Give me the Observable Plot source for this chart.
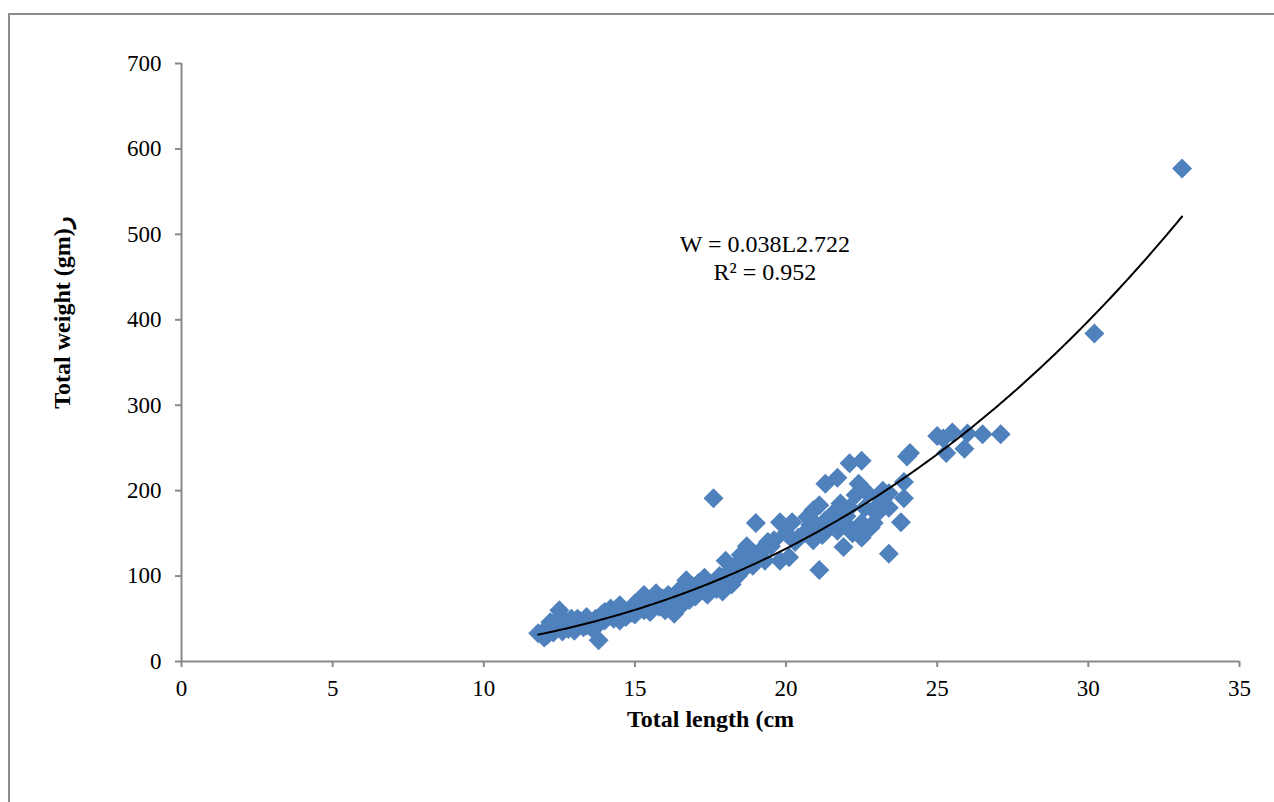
<!DOCTYPE html>
<html><head><meta charset="utf-8">
<script src="https://cdn.jsdelivr.net/npm/d3@7"></script>
<script src="https://cdn.jsdelivr.net/npm/@observablehq/plot@0.6"></script>
<style>
html,body{margin:0;padding:0;background:#fff;overflow:hidden;}
#frame{position:absolute;left:8px;top:13px;width:1400px;height:1000px;border:2px solid #8c8c8c;box-sizing:border-box;}
#chart{position:absolute;left:0;top:0;}
</style></head>
<body>
<div id="frame"></div>
<div id="chart"></div>
<script>
const xTicks = [0, 5, 10, 15, 20, 25, 30, 35];
const yTicks = [0, 100, 200, 300, 400, 500, 600, 700];
const fitA = 0.038;
const fitB = 2.722;
const fitRange = [11.8, 33.1];
const equationLines = ["W = 0.038L2.722", "R² = 0.952"];

const lengthCm = [
11.8,12.0,12.0,12.1,12.2,12.3,12.3,12.4,12.5,12.5,12.5,12.6,12.7,12.8,12.9,13.0,13.0,13.1,13.2,13.3,
13.4,13.5,13.6,13.7,13.8,13.8,13.9,14.0,14.0,14.1,14.2,14.3,14.4,14.5,14.5,14.6,14.7,14.8,14.9,15.0,
15.0,15.1,15.2,15.3,15.3,15.4,15.5,15.6,15.7,15.8,15.9,16.0,16.0,16.1,16.2,16.3,16.4,16.5,16.6,16.7,
16.8,16.9,17.0,17.1,17.2,17.3,17.4,17.5,17.6,17.7,17.8,17.9,18.0,18.0,18.1,18.2,18.3,18.4,18.5,18.6,
18.7,18.8,18.9,19.0,19.0,19.2,19.3,19.4,19.6,19.8,19.8,20.0,20.1,20.2,20.4,20.6,20.7,20.9,20.9,21.0,
21.1,21.1,21.2,21.3,21.4,21.5,21.7,21.7,21.8,21.8,21.9,22.0,22.1,22.1,22.2,22.3,22.4,22.5,22.5,22.5,
22.7,22.8,22.9,23.0,23.1,23.2,23.4,23.4,23.4,23.8,23.9,23.9,24.0,24.1,25.0,25.2,25.3,25.5,25.9,26.0,
26.5,27.1,30.2,33.1,
12.2,12.9,13.4,14.2,14.9,15.6,16.2,16.8,17.4,18.2,18.6,19.1,19.5,20.3,20.8,21.3,21.6,22.0,22.6,23.1
];
const weightGm = [
33,28,36,31,38,42,34,45,60,52,40,35,48,38,44,36,42,50,47,40,
52,45,38,50,25,44,55,48,58,52,62,50,56,66,48,60,52,58,63,55,
68,62,72,60,78,66,58,70,80,64,74,60,68,78,70,56,75,85,68,95,
80,88,76,92,84,98,78,90,191,85,100,82,118,95,105,90,112,100,125,108,
135,118,112,162,125,130,118,140,142,163,118,150,122,163,145,150,169,142,177,160,
107,183,148,208,157,170,215,153,185,162,134,170,180,232,150,195,208,235,162,145,
197,157,162,173,192,200,180,197,126,163,210,191,240,244,264,261,244,268,249,267,
266,266,384,577,
46,50,42,55,57,62,74,72,88,97,120,128,135,140,160,165,175,160,180,185
];
const points = lengthCm.map((L, i) => ({L, W: weightGm[i]}));

const fitLine = d3.range(fitRange[0], fitRange[1] + 0.001, 0.1).map(L => ({L, W: fitA * Math.pow(L, fitB)}));

const font = "'Liberation Serif','Times New Roman',serif";
const plot = Plot.plot({
  width: 1274,
  height: 802,
  marginLeft: 181,
  marginRight: 35,
  marginTop: 63,
  marginBottom: 141,
  style: {fontFamily: font, fontSize: "23px", color: "#000", background: "transparent"},
  x: {domain: [0, 35]},
  y: {domain: [0, 700]},
  marks: [
    Plot.dot(points, {x: "L", y: "W", symbol: "diamond2", r: 9, fill: "#4F81BD", stroke: "none"}),
    Plot.line(fitLine, {x: "L", y: "W", stroke: "#000", strokeWidth: 2, curve: "linear"}),
    Plot.ruleY([0], {stroke: "#898989", strokeWidth: 2}),
    Plot.ruleX([0], {stroke: "#898989", strokeWidth: 2}),
    Plot.axisX({ticks: xTicks, tickSize: 6, stroke: "#898989", strokeWidth: 2, tickPadding: 12, fontSize: 23, label: null}),
    Plot.axisY({ticks: yTicks, tickSize: 6, stroke: "#898989", strokeWidth: 2, tickPadding: 14, fontSize: 23, label: null}),
    Plot.text(["Total length (cm"], {frameAnchor: "bottom", dy: 65, fontWeight: "bold", fontSize: 24}),
    Plot.text(["Total weight (gm)ر"], {frameAnchor: "left", textAnchor: "middle", dx: -119, dy: -50, rotate: -90, fontWeight: "bold", fontSize: 24}),
    Plot.text([equationLines.join("\n")], {x: 19.3, y: 473, fontSize: 24, lineHeight: 1.17, textAnchor: "middle"})
  ]
});
document.getElementById("chart").appendChild(plot);
</script>
</body></html>
